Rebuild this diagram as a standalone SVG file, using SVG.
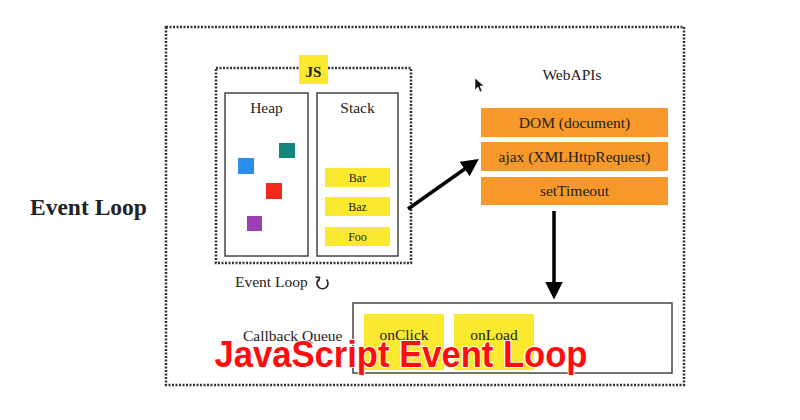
<svg xmlns="http://www.w3.org/2000/svg" width="800" height="420" viewBox="0 0 800 420">
<defs>
<style>
.dot{fill:none;stroke:#333;stroke-width:2.5;stroke-dasharray:2 1.5}
.box{fill:none;stroke:#444;stroke-width:1.5}
.serif{font-family:"Liberation Serif","Times New Roman",serif;fill:#222}
.y{fill:#fbe92f}
.o{fill:#f7982a}
.st{font-size:12px;text-anchor:middle}
.wt{font-size:15.5px;text-anchor:middle}
</style>
<marker id="ah" viewBox="0 0 10 10" refX="8" refY="5" markerWidth="5" markerHeight="5" orient="auto" markerUnits="strokeWidth">
<path d="M0,0 L10,5 L0,10 Z" fill="#000"/>
</marker>
</defs>
<rect width="800" height="420" fill="#fff"/>
<g id="title-left"><text x="30" y="215" class="serif" font-size="23.5" font-weight="bold" fill="#111">Event Loop</text></g>
<g id="outer"><rect x="166" y="27" width="518" height="358" class="dot"/></g>
<g id="js">
<rect x="216" y="68" width="195" height="195" class="dot"/>
<rect x="299" y="55" width="29" height="29" class="y"/>
<text x="313.5" y="77" class="serif" font-size="15" font-weight="bold" text-anchor="middle">JS</text>
</g>
<g id="heap">
<rect x="225" y="93" width="83" height="163" class="box"/>
<text x="266.5" y="113" class="serif wt">Heap</text>
<rect x="279" y="143" width="16" height="15" fill="#13857d"/>
<rect x="238" y="158" width="16" height="16" fill="#2a8ef0"/>
<rect x="266" y="183" width="16" height="16" fill="#f22a1c"/>
<rect x="247" y="216" width="15" height="15" fill="#9a3fb5"/>
</g>
<g id="stack">
<rect x="317" y="93" width="81" height="163" class="box"/>
<text x="357.5" y="113" class="serif wt">Stack</text>
<rect x="325" y="168" width="65" height="19" class="y"/>
<text x="357.5" y="182" class="serif st">Bar</text>
<rect x="325" y="197" width="65" height="19" class="y"/>
<text x="357.5" y="211" class="serif st">Baz</text>
<rect x="325" y="227" width="65" height="19" class="y"/>
<text x="357.5" y="241" class="serif st">Foo</text>
</g>
<g id="eventloop">
<text x="235" y="287" class="serif" font-size="15.5">Event Loop</text>
<path d="M326.5,279.5 A5.5,5.5 0 1 1 318.5,279.5" fill="none" stroke="#222" stroke-width="1.6"/>
<path d="M315.5,277 L319.5,277.5 L318.5,281.5" fill="none" stroke="#222" stroke-width="1.6"/>
</g>
<g id="webapis">
<text x="572" y="80" class="serif wt">WebAPIs</text>
<rect x="481" y="108" width="187" height="29" class="o"/>
<text x="574.5" y="128" class="serif wt">DOM (document)</text>
<rect x="481" y="142" width="187" height="29" class="o"/>
<text x="574.5" y="162" class="serif wt">ajax (XMLHttpRequest)</text>
<rect x="481" y="177" width="187" height="28" class="o"/>
<text x="574.5" y="196" class="serif wt">setTimeout</text>
</g>
<g id="cursor"><path d="M475,78 L475,90 L478,87 L480,92 L482,91 L480,86 L484,86 Z" fill="#111" stroke="#fff" stroke-width="0.6"/></g>
<g id="queue">
<rect x="353" y="303" width="319" height="70" fill="none" stroke="#444" stroke-width="1.5"/>
<text x="243" y="341" class="serif" font-size="15.5">Callback Queue</text>
<rect x="364" y="314" width="80" height="56" class="y"/>
<text x="404" y="340" class="serif wt">onClick</text>
<rect x="454" y="314" width="80" height="56" class="y"/>
<text x="494" y="340" class="serif wt">onLoad</text>
</g>
<g id="connectors" stroke="#000" stroke-width="3.5" fill="none">
<line x1="408" y1="209" x2="476" y2="161" marker-end="url(#ah)"/>
<line x1="554" y1="211" x2="554" y2="296" marker-end="url(#ah)"/>
</g>
<g id="overlay"><text x="401" y="367" font-family="'Liberation Sans',Arial,sans-serif" font-size="37" font-weight="700" fill="#ff0d0d" stroke="#fff" stroke-width="2" paint-order="stroke" text-anchor="middle" textLength="373" lengthAdjust="spacingAndGlyphs">JavaScript Event Loop</text></g>
</svg>
